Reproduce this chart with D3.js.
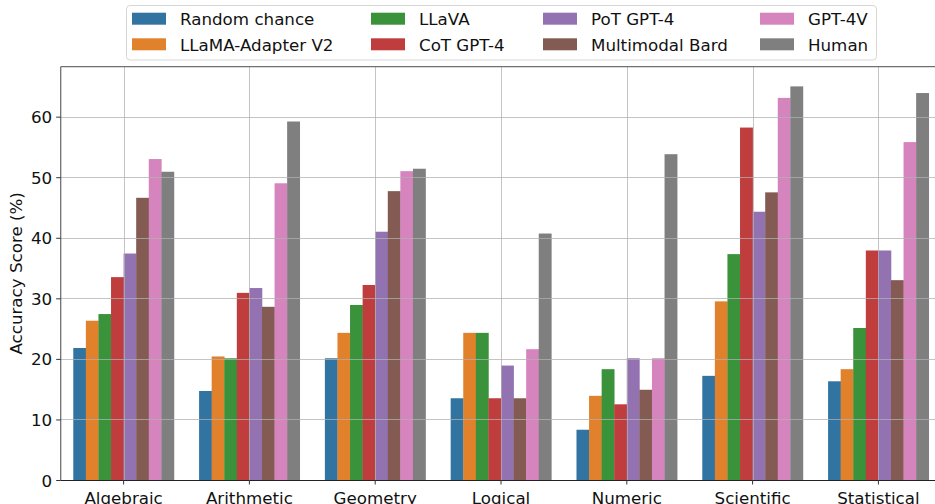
<!DOCTYPE html>
<html>
<head>
<meta charset="utf-8">
<script src="https://cdn.jsdelivr.net/npm/d3@7"></script>
<style>
  body { margin: 0; background: #fff; }
  svg { display: block; font-family: "DejaVu Sans", sans-serif; }
</style>
</head>
<body>
<div class="chart"></div>
<script>
// categories on the x axis
var categories = ["Algebraic", "Arithmetic", "Geometry", "Logical", "Numeric", "Scientific", "Statistical"];

// series (models), in legend / bar order
var models = ["Random chance", "LLaMA-Adapter V2", "LLaVA", "CoT GPT-4", "PoT GPT-4", "Multimodal Bard", "GPT-4V", "Human"];

// accuracy per category, one array per model
var randomChance = [21.8, 14.7, 20.1, 13.5, 8.3, 17.2, 16.3];
var llamaAdapter = [26.3, 20.4, 24.3, 24.3, 13.9, 29.5, 18.3];
var llava        = [27.4, 20.1, 28.9, 24.3, 18.3, 37.3, 25.1];
var cotGpt4      = [33.5, 30.9, 32.2, 13.5, 12.5, 58.2, 37.9];
var potGpt4      = [37.4, 31.7, 41.0, 18.9, 20.1, 44.3, 37.9];
var bard         = [46.6, 28.6, 47.7, 13.5, 14.9, 47.5, 33.0];
var gpt4v        = [53.0, 49.0, 51.0, 21.6, 20.1, 63.1, 55.8];
var human        = [50.9, 59.2, 51.4, 40.7, 53.8, 65.0, 63.9];

var yTicks = [0, 10, 20, 30, 40, 50, 60];

var seriesValues = [randomChance, llamaAdapter, llava, cotGpt4, potGpt4, bard, gpt4v, human];

var color = d3.scaleOrdinal()
    .domain(models)
    .range(["#3274a1", "#e1812c", "#3a923a", "#c03d3e", "#9372b2", "#845b53", "#d684bd", "#7f7f7f"]);

// flat table for the bars
var rows = [];
categories.forEach(function (c, i) {
    models.forEach(function (m, j) {
        rows.push({ category: c, model: m, value: seriesValues[j][i] });
    });
});

var width = 935, height = 504;
var plotLeft = 60.7, plotRight = 941.3, plotTop = 66.7, plotBottom = 480;

var svg = d3.select(".chart").append("svg")
    .attr("width", width)
    .attr("height", height);

var x = d3.scaleBand()
    .domain(categories)
    .range([plotLeft, plotRight])
    .padding(0);

var xInner = d3.scaleBand()
    .domain(models)
    .range([x.step() * 0.1, x.step() * 0.9])
    .padding(0);

var maxVal = d3.max(rows, d => d.value);
var y = d3.scaleLinear()
    .domain([0, maxVal * 1.05])
    .range([plotBottom, plotTop]);

//bars
svg.append("g")
    .selectAll("rect")
    .data(rows)
    .join("rect")
    .attr("x", d => x(d.category) + xInner(d.model))
    .attr("y", d => y(d.value))
    .attr("width", xInner.bandwidth() + 0.3)
    .attr("height", d => y(0) - y(d.value))
    .attr("fill", d => color(d.model));

//grid (drawn above the bars)
var grid = svg.append("g")
    .attr("stroke", "#b0b0b0")
    .attr("stroke-opacity", 0.75)
    .attr("stroke-width", 1);

grid.selectAll("line.h")
    .data(yTicks.slice(1))
    .join("line")
    .attr("class", "h")
    .attr("x1", plotLeft)
    .attr("x2", plotRight)
    .attr("y1", d => Math.round(y(d)) + 0.5)
    .attr("y2", d => Math.round(y(d)) + 0.5);

grid.selectAll("line.v")
    .data(categories)
    .join("line")
    .attr("class", "v")
    .attr("x1", d => Math.round(x(d) + x.bandwidth() / 2) + 0.5)
    .attr("x2", d => Math.round(x(d) + x.bandwidth() / 2) + 0.5)
    .attr("y1", plotTop)
    .attr("y2", plotBottom);

//spines
svg.append("line")
    .attr("x1", plotLeft).attr("x2", plotRight)
    .attr("y1", plotTop).attr("y2", plotTop)
    .attr("stroke", "#707070").attr("stroke-width", 1.3);
svg.append("line")
    .attr("x1", plotLeft).attr("x2", plotLeft)
    .attr("y1", plotTop).attr("y2", plotBottom)
    .attr("stroke", "#707070").attr("stroke-width", 1.3);

//axes
var yAxis = svg.append("g")
    .attr("transform", `translate(${plotLeft},0)`)
    .call(d3.axisLeft(y).tickValues(yTicks).tickSize(4.5).tickPadding(4).tickFormat(d3.format("d")));
yAxis.select(".domain").remove();
yAxis.selectAll(".tick line").attr("stroke", "#333");
yAxis.selectAll("text")
    .attr("font-size", 16.7)
    .attr("font-family", "DejaVu Sans")
    .attr("fill", "#111")
    .attr("dy", "0.36em");

var xAxis = svg.append("g")
    .attr("transform", `translate(0,${plotBottom})`)
    .call(d3.axisBottom(x).tickSize(4.5).tickPadding(4));
xAxis.select(".domain")
    .attr("stroke", "#222")
    .attr("stroke-width", 1.2)
    .attr("d", `M${plotLeft},0.5H${plotRight}`);
xAxis.selectAll(".tick line").attr("stroke", "#333");
xAxis.selectAll("text")
    .attr("font-size", 16.7)
    .attr("font-family", "DejaVu Sans")
    .attr("fill", "#111")
    .attr("dy", "0.95em");

//y label
svg.append("text")
    .attr("transform", `translate(22,${(plotTop + plotBottom) / 2}) rotate(-90)`)
    .attr("text-anchor", "middle")
    .attr("font-size", 16.7)
    .attr("fill", "#111")
    .text("Accuracy Score (%)");

//legend
var legend = svg.append("g");
legend.append("rect")
    .attr("x", 126.5).attr("y", 5.5)
    .attr("width", 750).attr("height", 54.5)
    .attr("rx", 3.5)
    .attr("fill", "white")
    .attr("fill-opacity", 0.8)
    .attr("stroke", "#d6d6d6");

var colX = [132, 371, 543, 760];
var rowY = [12.7, 38.3];
var item = legend.selectAll("g.item")
    .data(models)
    .join("g")
    .attr("class", "item")
    .attr("transform", (d, i) => `translate(${colX[Math.floor(i / 2)]},${rowY[i % 2]})`);

item.append("rect")
    .attr("width", 34)
    .attr("height", 12)
    .attr("fill", d => color(d));

item.append("text")
    .attr("x", 48)
    .attr("y", 12.3)
    .attr("font-size", 16.7)
    .attr("fill", "#111")
    .text(d => d);
</script>
</body>
</html>
